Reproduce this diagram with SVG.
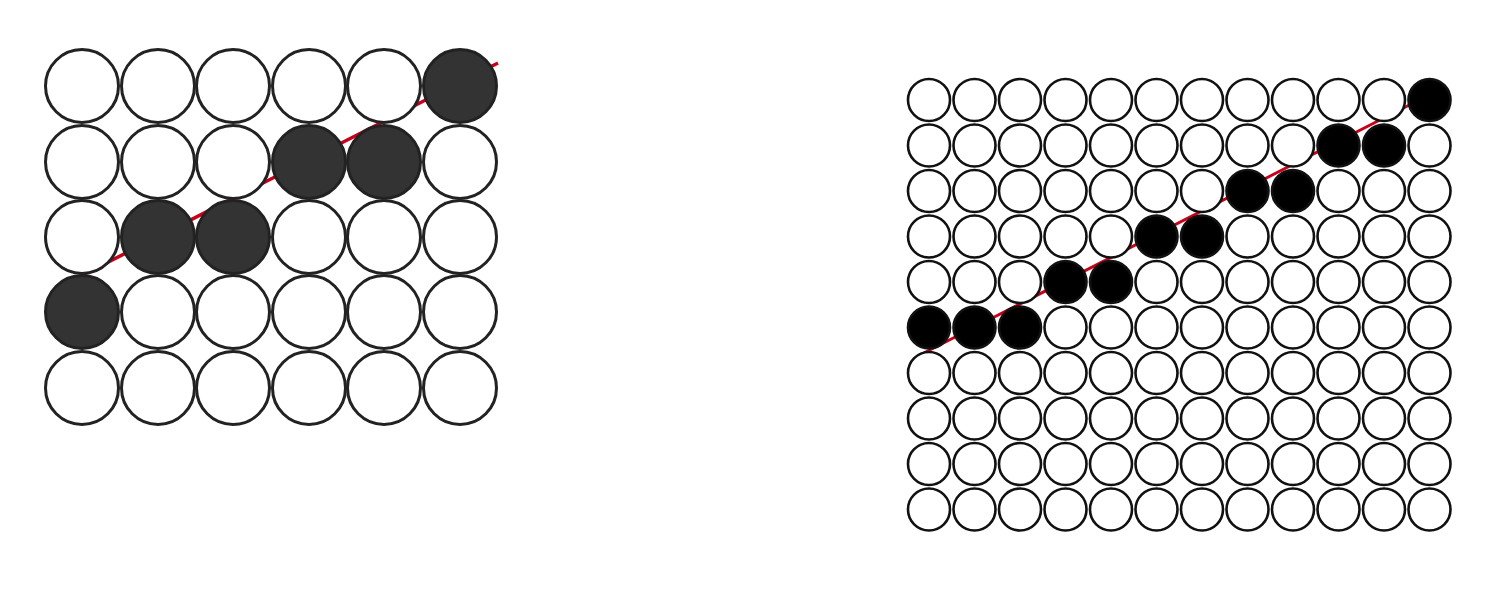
<svg xmlns="http://www.w3.org/2000/svg" width="1507" height="589" viewBox="0 0 1507 589">
<defs>
<style>
.c1{fill:#fff;stroke:#222;stroke-width:3}
.f1{fill:#333;stroke:#222;stroke-width:3}
.c2{fill:#fff;stroke:#111;stroke-width:2.6}
.f2{fill:#000;stroke:#111;stroke-width:2.6}
.ln{stroke:#c8001a;fill:none}
</style>
<circle id="a" r="36.5"/>
<circle id="b" r="21"/>
</defs>
<rect width="1507" height="589" fill="#fff"/>
<g id="connectors">
<line class="ln" x1="77" y1="278" x2="498" y2="63" stroke-width="3.5"/>
<line class="ln" x1="920" y1="355" x2="1425" y2="97" stroke-width="3"/>
</g>
<g id="left-grid">
<g class="c1">
<use href="#a" x="82" y="86"/><use href="#a" x="158" y="86"/><use href="#a" x="233" y="86"/><use href="#a" x="309" y="86"/><use href="#a" x="384" y="86"/>
<use href="#a" x="82" y="162"/><use href="#a" x="158" y="162"/><use href="#a" x="233" y="162"/><use href="#a" x="460" y="162"/>
<use href="#a" x="82" y="237"/><use href="#a" x="309" y="237"/><use href="#a" x="384" y="237"/><use href="#a" x="460" y="237"/>
<use href="#a" x="158" y="312"/><use href="#a" x="233" y="312"/><use href="#a" x="309" y="312"/><use href="#a" x="384" y="312"/><use href="#a" x="460" y="312"/>
<use href="#a" x="82" y="388"/><use href="#a" x="158" y="388"/><use href="#a" x="233" y="388"/><use href="#a" x="309" y="388"/><use href="#a" x="384" y="388"/><use href="#a" x="460" y="388"/>
</g>
<g class="f1">
<use href="#a" x="460" y="86"/>
<use href="#a" x="309" y="162"/><use href="#a" x="384" y="162"/>
<use href="#a" x="158" y="237"/><use href="#a" x="233" y="237"/>
<use href="#a" x="82" y="312"/>
</g>
</g>
<g id="right-grid">
<g class="c2">
<use href="#b" x="929" y="100"/><use href="#b" x="974.5" y="100"/><use href="#b" x="1020" y="100"/><use href="#b" x="1065.5" y="100"/><use href="#b" x="1111" y="100"/><use href="#b" x="1156.5" y="100"/><use href="#b" x="1202" y="100"/><use href="#b" x="1247.5" y="100"/><use href="#b" x="1293" y="100"/><use href="#b" x="1338.5" y="100"/><use href="#b" x="1384" y="100"/>
<use href="#b" x="929" y="145.5"/><use href="#b" x="974.5" y="145.5"/><use href="#b" x="1020" y="145.5"/><use href="#b" x="1065.5" y="145.5"/><use href="#b" x="1111" y="145.5"/><use href="#b" x="1156.5" y="145.5"/><use href="#b" x="1202" y="145.5"/><use href="#b" x="1247.5" y="145.5"/><use href="#b" x="1293" y="145.5"/><use href="#b" x="1429.5" y="145.5"/>
<use href="#b" x="929" y="191"/><use href="#b" x="974.5" y="191"/><use href="#b" x="1020" y="191"/><use href="#b" x="1065.5" y="191"/><use href="#b" x="1111" y="191"/><use href="#b" x="1156.5" y="191"/><use href="#b" x="1202" y="191"/><use href="#b" x="1338.5" y="191"/><use href="#b" x="1384" y="191"/><use href="#b" x="1429.5" y="191"/>
<use href="#b" x="929" y="236.5"/><use href="#b" x="974.5" y="236.5"/><use href="#b" x="1020" y="236.5"/><use href="#b" x="1065.5" y="236.5"/><use href="#b" x="1111" y="236.5"/><use href="#b" x="1247.5" y="236.5"/><use href="#b" x="1293" y="236.5"/><use href="#b" x="1338.5" y="236.5"/><use href="#b" x="1384" y="236.5"/><use href="#b" x="1429.5" y="236.5"/>
<use href="#b" x="929" y="282"/><use href="#b" x="974.5" y="282"/><use href="#b" x="1020" y="282"/><use href="#b" x="1156.5" y="282"/><use href="#b" x="1202" y="282"/><use href="#b" x="1247.5" y="282"/><use href="#b" x="1293" y="282"/><use href="#b" x="1338.5" y="282"/><use href="#b" x="1384" y="282"/><use href="#b" x="1429.5" y="282"/>
<use href="#b" x="1065.5" y="327.5"/><use href="#b" x="1111" y="327.5"/><use href="#b" x="1156.5" y="327.5"/><use href="#b" x="1202" y="327.5"/><use href="#b" x="1247.5" y="327.5"/><use href="#b" x="1293" y="327.5"/><use href="#b" x="1338.5" y="327.5"/><use href="#b" x="1384" y="327.5"/><use href="#b" x="1429.5" y="327.5"/>
<use href="#b" x="929" y="373"/><use href="#b" x="974.5" y="373"/><use href="#b" x="1020" y="373"/><use href="#b" x="1065.5" y="373"/><use href="#b" x="1111" y="373"/><use href="#b" x="1156.5" y="373"/><use href="#b" x="1202" y="373"/><use href="#b" x="1247.5" y="373"/><use href="#b" x="1293" y="373"/><use href="#b" x="1338.5" y="373"/><use href="#b" x="1384" y="373"/><use href="#b" x="1429.5" y="373"/>
<use href="#b" x="929" y="418.5"/><use href="#b" x="974.5" y="418.5"/><use href="#b" x="1020" y="418.5"/><use href="#b" x="1065.5" y="418.5"/><use href="#b" x="1111" y="418.5"/><use href="#b" x="1156.5" y="418.5"/><use href="#b" x="1202" y="418.5"/><use href="#b" x="1247.5" y="418.5"/><use href="#b" x="1293" y="418.5"/><use href="#b" x="1338.5" y="418.5"/><use href="#b" x="1384" y="418.5"/><use href="#b" x="1429.5" y="418.5"/>
<use href="#b" x="929" y="464"/><use href="#b" x="974.5" y="464"/><use href="#b" x="1020" y="464"/><use href="#b" x="1065.5" y="464"/><use href="#b" x="1111" y="464"/><use href="#b" x="1156.5" y="464"/><use href="#b" x="1202" y="464"/><use href="#b" x="1247.5" y="464"/><use href="#b" x="1293" y="464"/><use href="#b" x="1338.5" y="464"/><use href="#b" x="1384" y="464"/><use href="#b" x="1429.5" y="464"/>
<use href="#b" x="929" y="509.5"/><use href="#b" x="974.5" y="509.5"/><use href="#b" x="1020" y="509.5"/><use href="#b" x="1065.5" y="509.5"/><use href="#b" x="1111" y="509.5"/><use href="#b" x="1156.5" y="509.5"/><use href="#b" x="1202" y="509.5"/><use href="#b" x="1247.5" y="509.5"/><use href="#b" x="1293" y="509.5"/><use href="#b" x="1338.5" y="509.5"/><use href="#b" x="1384" y="509.5"/><use href="#b" x="1429.5" y="509.5"/>
</g>
<g class="f2">
<use href="#b" x="1429.5" y="100"/>
<use href="#b" x="1338.5" y="145.5"/><use href="#b" x="1384" y="145.5"/>
<use href="#b" x="1247.5" y="191"/><use href="#b" x="1293" y="191"/>
<use href="#b" x="1156.5" y="236.5"/><use href="#b" x="1202" y="236.5"/>
<use href="#b" x="1065.5" y="282"/><use href="#b" x="1111" y="282"/>
<use href="#b" x="929" y="327.5"/><use href="#b" x="974.5" y="327.5"/><use href="#b" x="1020" y="327.5"/>
</g>
</g>
</svg>
